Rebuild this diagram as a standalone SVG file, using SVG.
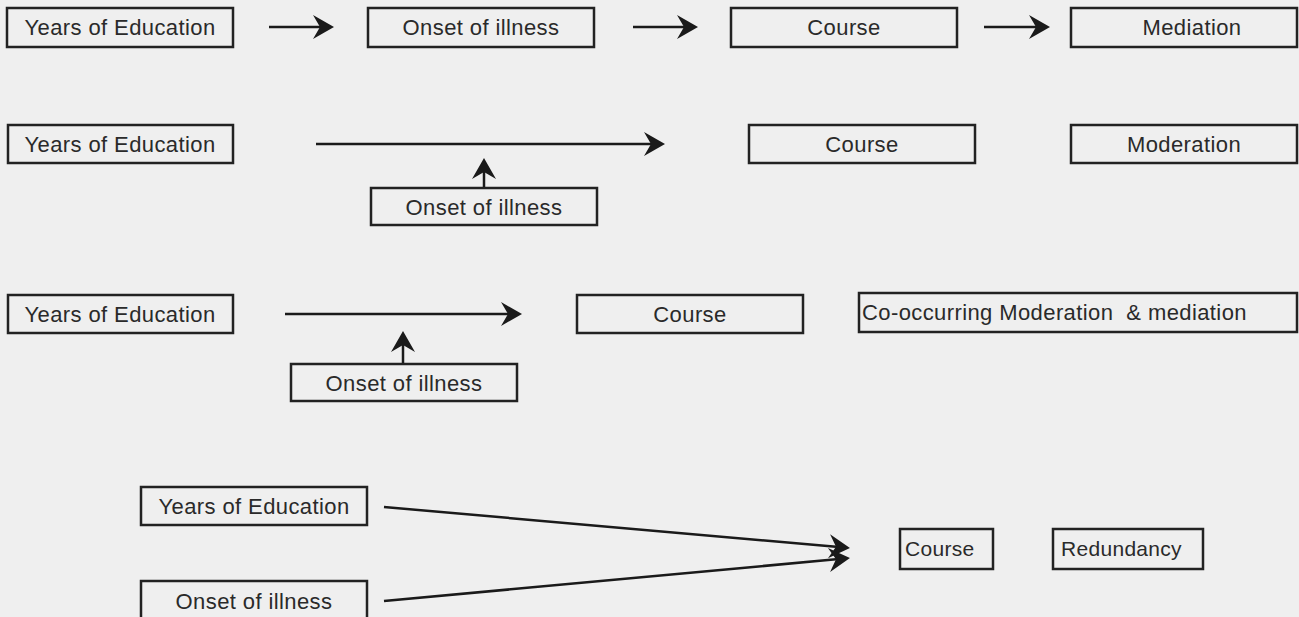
<svg xmlns="http://www.w3.org/2000/svg" width="1299" height="617" viewBox="0 0 1299 617">
<defs>
<style>
.bg{fill:#efefef}
.box{fill:none;stroke:#222;stroke-width:2.5}
.t{font-family:"Liberation Sans",Arial,sans-serif;font-size:22px;fill:#2a2a2a;letter-spacing:0.4px}
.s{font-size:21px;letter-spacing:0.3px}
.c{text-anchor:middle}
.ln{stroke:#1a1a1a;stroke-width:2.5;fill:none;marker-end:url(#ah)}
</style>
<marker id="ah" markerUnits="userSpaceOnUse" markerWidth="24" markerHeight="26" viewBox="0 -13 22 26" refX="7" refY="0" orient="auto">
<path d="M0,-12 L21,0 L0,12 L7,0 Z" fill="#1a1a1a"/>
</marker>
</defs>
<rect class="bg" x="0" y="0" width="1299" height="617"/>

<g id="connectors">
<line class="ln" x1="269" y1="27" x2="320" y2="27"/>
<line class="ln" x1="633" y1="27" x2="684" y2="27"/>
<line class="ln" x1="984" y1="27" x2="1036" y2="27"/>
<line class="ln" x1="316" y1="144" x2="651" y2="144"/>
<line class="ln" x1="484" y1="188" x2="484" y2="172"/>
<line class="ln" x1="285" y1="314" x2="508" y2="314"/>
<line class="ln" x1="403" y1="364" x2="403" y2="345"/>
<line class="ln" x1="384" y1="507" x2="836" y2="546.8"/>
<line class="ln" x1="384" y1="601" x2="836" y2="559.3"/>
</g>

<g id="r1-edu"><rect class="box" x="7" y="8" width="226" height="39"/><text class="t c" x="120" y="35">Years of Education</text></g>
<g id="r1-onset"><rect class="box" x="368" y="8" width="226" height="39"/><text class="t c" x="481" y="35">Onset of illness</text></g>
<g id="r1-course"><rect class="box" x="731" y="8" width="226" height="39"/><text class="t c" x="844" y="35">Course</text></g>
<g id="r1-mediation"><rect class="box" x="1071" y="8" width="226" height="39"/><text class="t c" x="1192" y="35">Mediation</text></g>

<g id="r2-edu"><rect class="box" x="8" y="125" width="225" height="38"/><text class="t c" x="120" y="152">Years of Education</text></g>
<g id="r2-onset"><rect class="box" x="371" y="188" width="226" height="37"/><text class="t c" x="484" y="215">Onset of illness</text></g>
<g id="r2-course"><rect class="box" x="749" y="125" width="226" height="38"/><text class="t c" x="862" y="152">Course</text></g>
<g id="r2-moderation"><rect class="box" x="1071" y="125" width="226" height="38"/><text class="t c" x="1184" y="152">Moderation</text></g>

<g id="r3-edu"><rect class="box" x="8" y="295" width="225" height="38"/><text class="t c" x="120" y="322">Years of Education</text></g>
<g id="r3-onset"><rect class="box" x="291" y="364" width="226" height="37"/><text class="t c" x="404" y="391">Onset of illness</text></g>
<g id="r3-course"><rect class="box" x="577" y="295" width="226" height="38"/><text class="t c" x="690" y="322">Course</text></g>
<g id="r3-cooccur"><rect class="box" x="859" y="293" width="438" height="39"/><text class="t" x="862" y="320" xml:space="preserve">Co-occurring Moderation  &amp; mediation</text></g>

<g id="r4-edu"><rect class="box" x="141" y="487" width="226" height="38"/><text class="t c" x="254" y="514">Years of Education</text></g>
<g id="r4-onset"><rect class="box" x="141" y="581" width="226" height="40"/><text class="t c" x="254" y="609">Onset of illness</text></g>
<g id="r4-course"><rect class="box" x="900" y="529" width="93" height="40"/><text class="t s" x="905" y="556">Course</text></g>
<g id="r4-redundancy"><rect class="box" x="1053" y="529" width="150" height="40"/><text class="t s" x="1061" y="556">Redundancy</text></g>
</svg>
